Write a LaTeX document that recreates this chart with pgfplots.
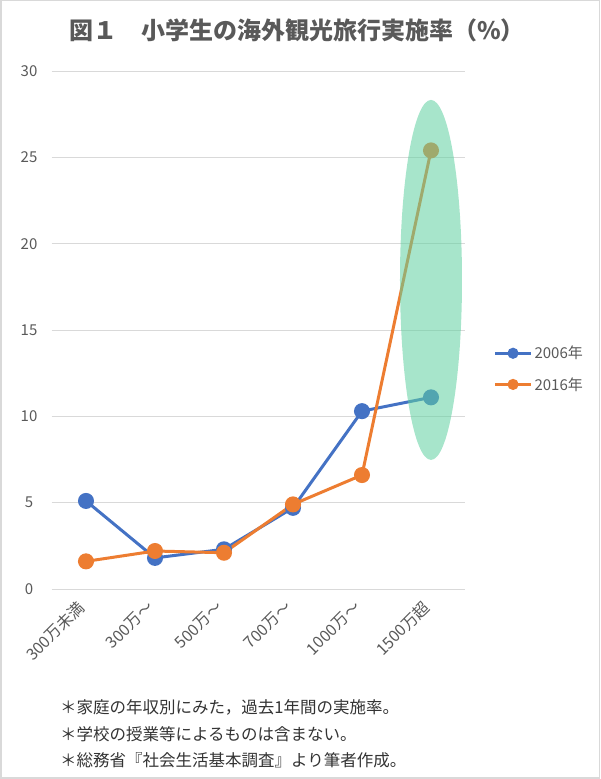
\documentclass[border=0pt]{standalone}
\usepackage{pgfplots}
\pgfplotsset{compat=1.18}
\usepackage{fontspec}
\setmainfont{Noto Sans CJK JP}
\definecolor{cblue}{RGB}{68,114,196}
\definecolor{corange}{RGB}{237,125,49}
\definecolor{cgrid}{RGB}{217,217,217}
\definecolor{ctext}{RGB}{89,89,89}
\definecolor{cgreen}{RGB}{95,208,160}
\begin{document}
\begin{tikzpicture}[x=1pt,y=1pt]
\draw[cgrid, line width=1.5pt] (0.75,0.75) rectangle (599.25,778.25);
\node[font=\fontsize{24}{27}\selectfont\bfseries, text=ctext] at (297,749) {図１\quad 小学生の海外観光旅行実施率（\%）};
\begin{axis}[
  set layers,
  at={(51.5pt,190pt)}, anchor=south west,
  scale only axis, width=414pt, height=518pt,
  xmin=-0.5, xmax=5.5, ymin=0, ymax=30,
  axis line style={draw=none},
  ymajorgrids, grid style={cgrid, line width=0.8pt},
  ytick={0,5,...,30},
  xtick={0,1,2,3,4,5},
  xticklabels={300万未満,300万～,500万～,700万～,1000万～,1500万超},
  major tick length=0pt,
  /pgf/number format/assume math mode=true,
  ticklabel style={font=\fontsize{15}{17}\selectfont, text=ctext},
  yticklabel style={anchor=center, xshift=-22.5pt},
  xticklabel style={font=\fontsize{16}{18}\selectfont, xshift=-2pt, yshift=-13pt, rotate=45, anchor=east},
  clip=false,
  legend style={at={(1.06,0.425)}, anchor=west, draw=none, fill=none,
    font=\fontsize{15}{17}\selectfont, text=ctext, row sep=13pt},
  legend cell align=left,
  legend image code/.code={\draw[#1, mark size=4pt, mark repeat=2, mark phase=2] plot coordinates {(0pt,0pt) (18pt,0pt) (36pt,0pt)};},
]
\addplot[cblue, line width=3pt, mark=*, mark size=6.5pt] coordinates {
 (0,5.1) (1,1.8) (2,2.3) (3,4.7) (4,10.3) (5,11.1)};
\addlegendentry{2006年}
\addplot[corange, line width=3pt, mark=*, mark size=6.5pt] coordinates {
 (0,1.6) (1,2.2) (2,2.1) (3,4.9) (4,6.6) (5,25.4)};
\addlegendentry{2016年}
\begin{pgfonlayer}{axis foreground}
\fill[cgreen, opacity=0.55] (axis cs:5,17.9) ellipse [x radius=31pt, y radius=180pt];
\end{pgfonlayer}
\end{axis}
\begin{scope}[every node/.style={anchor=west, font=\fontsize{16.5}{18}\selectfont, text=black!80, inner sep=0pt}]
\node at (60,779-707) {＊家庭の年収別にみた，過去1年間の実施率。};
\node at (60,779-734) {＊学校の授業等によるものは含まない。};
\node at (60,779-760) {＊総務省『社会生活基本調査』より筆者作成。};
\end{scope}
\end{tikzpicture}
\end{document}
